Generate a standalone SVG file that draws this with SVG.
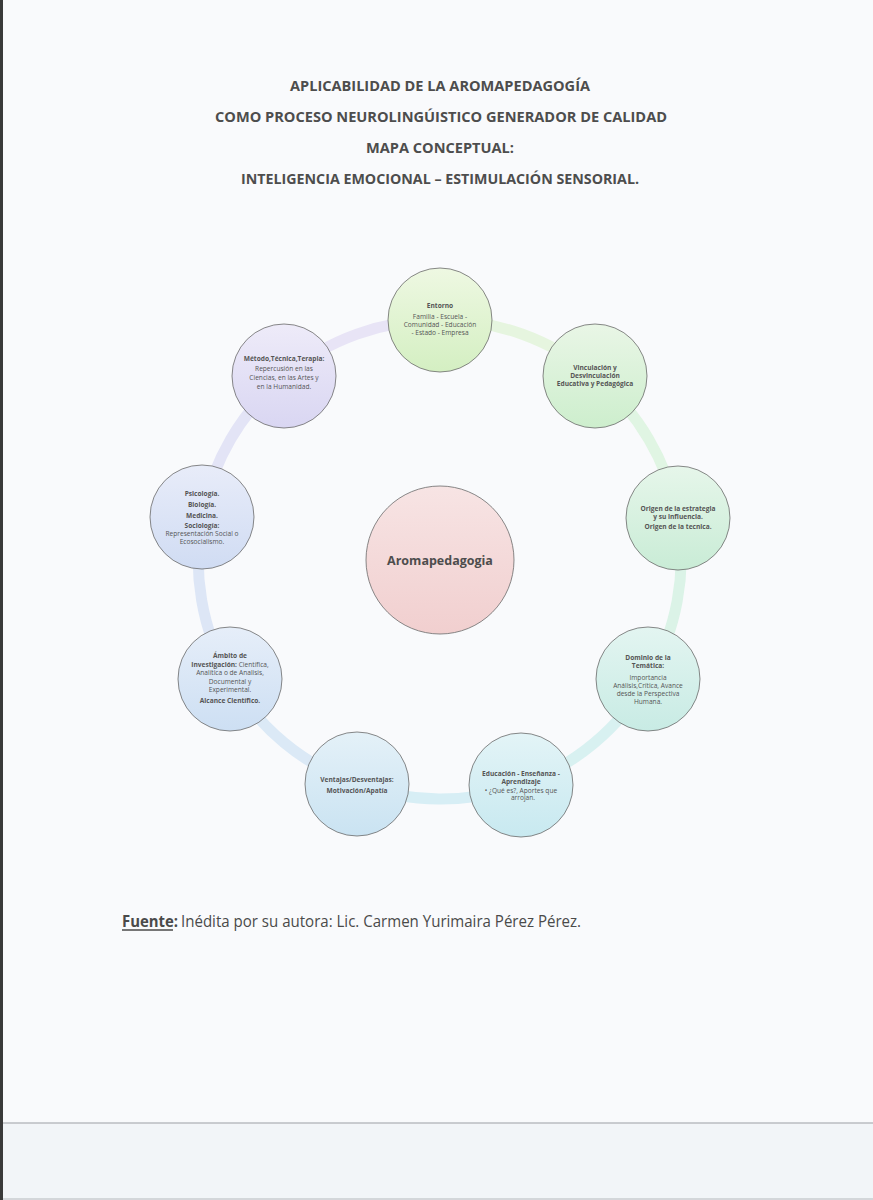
<svg xmlns="http://www.w3.org/2000/svg" width="873" height="1200" viewBox="0 0 873 1200">
<style>
.t{font-family:"Open Sans","Liberation Sans",sans-serif;fill:#4d4d4d;text-anchor:middle}
.title{font-size:15px;font-weight:700}
.n{font-size:6.6px;fill:#555}
.b{font-weight:700}
.node{stroke:#6a6a6a;stroke-width:0.8}
.ring{fill:none;stroke-width:11;stroke-linecap:butt}
</style>
<defs>
<linearGradient id="gEnt" x1="0" y1="0" x2="0" y2="1"><stop offset="0" stop-color="#eef8e2"/><stop offset="1" stop-color="#d4efc2"/></linearGradient>
<linearGradient id="gVin" x1="0" y1="0" x2="0" y2="1"><stop offset="0" stop-color="#e9f6e6"/><stop offset="1" stop-color="#cdeecd"/></linearGradient>
<linearGradient id="gOri" x1="0" y1="0" x2="0" y2="1"><stop offset="0" stop-color="#e6f6ea"/><stop offset="1" stop-color="#c9ecd6"/></linearGradient>
<linearGradient id="gDom" x1="0" y1="0" x2="0" y2="1"><stop offset="0" stop-color="#e3f5f1"/><stop offset="1" stop-color="#c8ebe4"/></linearGradient>
<linearGradient id="gEdu" x1="0" y1="0" x2="0" y2="1"><stop offset="0" stop-color="#e3f4f7"/><stop offset="1" stop-color="#c8e9f0"/></linearGradient>
<linearGradient id="gVen" x1="0" y1="0" x2="0" y2="1"><stop offset="0" stop-color="#e4f1f8"/><stop offset="1" stop-color="#cae3f2"/></linearGradient>
<linearGradient id="gAmb" x1="0" y1="0" x2="0" y2="1"><stop offset="0" stop-color="#e6eef9"/><stop offset="1" stop-color="#cddff3"/></linearGradient>
<linearGradient id="gPsi" x1="0" y1="0" x2="0" y2="1"><stop offset="0" stop-color="#e8ecf9"/><stop offset="1" stop-color="#d0dcf3"/></linearGradient>
<linearGradient id="gMet" x1="0" y1="0" x2="0" y2="1"><stop offset="0" stop-color="#eeebf9"/><stop offset="1" stop-color="#d9d6f2"/></linearGradient>
<linearGradient id="gCen" x1="0" y1="0" x2="0" y2="1"><stop offset="0" stop-color="#f7e4e4"/><stop offset="1" stop-color="#f1cfcf"/></linearGradient>
</defs>

<!-- paper -->
<rect x="0" y="0" width="873" height="1200" fill="#f6f7f9"/>
<rect x="0" y="0" width="873" height="1123" fill="#f9fafc"/>
<rect x="0" y="1124" width="873" height="76" fill="#f2f5f8"/>
<line x1="0" y1="1123" x2="873" y2="1123" stroke="#9a9ea3" stroke-width="1.2"/>
<line x1="0" y1="1199" x2="873" y2="1199" stroke="#b5b8bc" stroke-width="1"/>
<rect x="0" y="0" width="3" height="1200" fill="#3a3a3a"/>

<!-- title -->
<g id="title">
<text class="t title" x="440" y="91" textLength="300" lengthAdjust="spacingAndGlyphs">APLICABILIDAD DE LA AROMAPEDAGOGÍA</text>
<text class="t title" x="441" y="122" textLength="452" lengthAdjust="spacingAndGlyphs">COMO PROCESO NEUROLINGÚISTICO GENERADOR DE CALIDAD</text>
<text class="t title" x="440" y="153" textLength="148" lengthAdjust="spacingAndGlyphs">MAPA CONCEPTUAL:</text>
<text class="t title" x="440" y="184" textLength="398" lengthAdjust="spacingAndGlyphs">INTELIGENCIA EMOCIONAL – ESTIMULACIÓN SENSORIAL.</text>
</g>

<!-- connectors (ring) -->
<g id="connectors">
<path class="ring" stroke="#e6f5df" d="M440 320 A240 240 0 0 1 595 376"/>
<path class="ring" stroke="#e0f5e3" d="M595 376 A240 240 0 0 1 678 518"/>
<path class="ring" stroke="#dbf3e7" d="M678 518 A240 240 0 0 1 648 679"/>
<path class="ring" stroke="#d8f1f1" d="M648 679 A240 240 0 0 1 521 785"/>
<path class="ring" stroke="#d7eef5" d="M521 785 A240 240 0 0 1 357 784"/>
<path class="ring" stroke="#dbe9f6" d="M357 784 A240 240 0 0 1 230 679"/>
<path class="ring" stroke="#dde6f6" d="M230 679 A240 240 0 0 1 202 517"/>
<path class="ring" stroke="#e3e4f6" d="M202 517 A240 240 0 0 1 284 376"/>
<path class="ring" stroke="#e8e4f6" d="M284 376 A240 240 0 0 1 440 320"/>
</g>

<g id="center">
<circle class="node" cx="440" cy="560" r="74" fill="url(#gCen)"/>
<text class="t b" x="440" y="565" font-size="12.5">Aromapedagogia</text>
</g>

<g id="entorno">
<circle class="node" cx="440" cy="320" r="52" fill="url(#gEnt)"/>
<text class="t n b" x="440" y="308" font-size="6">Entorno</text>
<text class="t n" x="440" y="319">Familia - Escuela -</text>
<text class="t n" x="440" y="327">Comunidad - Educación</text>
<text class="t n" x="440" y="335">- Estado - Empresa</text>
</g>

<g id="vinculacion">
<circle class="node" cx="595" cy="376" r="52" fill="url(#gVin)"/>
<text class="t n b" x="595" y="370">Vinculación y</text>
<text class="t n b" x="595" y="378">Desvinculación</text>
<text class="t n b" x="595" y="386">Educativa y Pedagógica</text>
</g>

<g id="origen">
<circle class="node" cx="678" cy="518" r="52" fill="url(#gOri)"/>
<text class="t n b" x="678" y="511">Origen de la estrategia</text>
<text class="t n b" x="678" y="519">y su influencia.</text>
<text class="t n b" x="678" y="529">Origen de la tecnica.</text>
</g>

<g id="dominio">
<circle class="node" cx="648" cy="679" r="52" fill="url(#gDom)"/>
<text class="t n b" x="648" y="660">Dominio de la</text>
<text class="t n b" x="648" y="668">Temática:</text>
<text class="t n" x="648" y="680">Importancia</text>
<text class="t n" x="648" y="688">Análisis,Crítica, Avance</text>
<text class="t n" x="648" y="696">desde la Perspectiva</text>
<text class="t n" x="648" y="704">Humana.</text>
</g>

<g id="educacion">
<circle class="node" cx="521" cy="785" r="52" fill="url(#gEdu)"/>
<text class="t n b" x="521" y="776">Educación - Enseñanza -</text>
<text class="t n b" x="521" y="784">Aprendizaje</text>
<text class="t n" x="521" y="793" font-size="5">•   ¿Qué es?, Aportes que</text>
<text class="t n" x="523" y="800" font-size="5">arrojan.</text>
</g>

<g id="ventajas">
<circle class="node" cx="357" cy="784" r="52" fill="url(#gVen)"/>
<text class="t n b" x="357" y="782">Ventajas/Desventajas:</text>
<text class="t n b" x="357" y="793">Motivación/Apatía</text>
</g>

<g id="ambito">
<circle class="node" cx="230" cy="679" r="52" fill="url(#gAmb)"/>
<text class="t n b" x="230" y="658">Ámbito de</text>
<text class="t n" x="230" y="667"><tspan class="b">Investigación:</tspan> Científica,</text>
<text class="t n" x="230" y="675">Analítica o de Analisis,</text>
<text class="t n" x="230" y="684">Documental y</text>
<text class="t n" x="230" y="692">Experimental.</text>
<text class="t n b" x="230" y="703">Alcance Científico.</text>
</g>

<g id="psicologia">
<circle class="node" cx="202" cy="517" r="52" fill="url(#gPsi)"/>
<text class="t n b" x="202" y="496">Psicología.</text>
<text class="t n b" x="202" y="507">Biología.</text>
<text class="t n b" x="202" y="518">Medicina.</text>
<text class="t n b" x="202" y="528">Sociología:</text>
<text class="t n" x="202" y="536">Representación Social o</text>
<text class="t n" x="202" y="544">Ecosocialismo.</text>
</g>

<g id="metodo">
<circle class="node" cx="284" cy="376" r="52" fill="url(#gMet)"/>
<text class="t n b" x="284" y="361" font-size="5">Método,Técnica,Terapia:</text>
<text class="t n" x="284" y="371">Repercusión en las</text>
<text class="t n" x="284" y="380">Ciencias, en las Artes y</text>
<text class="t n" x="284" y="389">en la Humanidad.</text>
</g>

<g id="fuente">
<text x="122" y="927" font-family="'Open Sans','Liberation Sans',sans-serif" font-size="16" font-weight="700" fill="#4a4a4a" textLength="56" lengthAdjust="spacingAndGlyphs">Fuente:</text>
<line x1="122" y1="930" x2="173" y2="930" stroke="#4a4a4a" stroke-width="1.3"/>
<text x="181" y="927" font-family="'Open Sans','Liberation Sans',sans-serif" font-size="16" fill="#4a4a4a" textLength="400" lengthAdjust="spacingAndGlyphs">Inédita  por su autora: Lic. Carmen Yurimaira Pérez Pérez.</text>
</g>
</svg>
